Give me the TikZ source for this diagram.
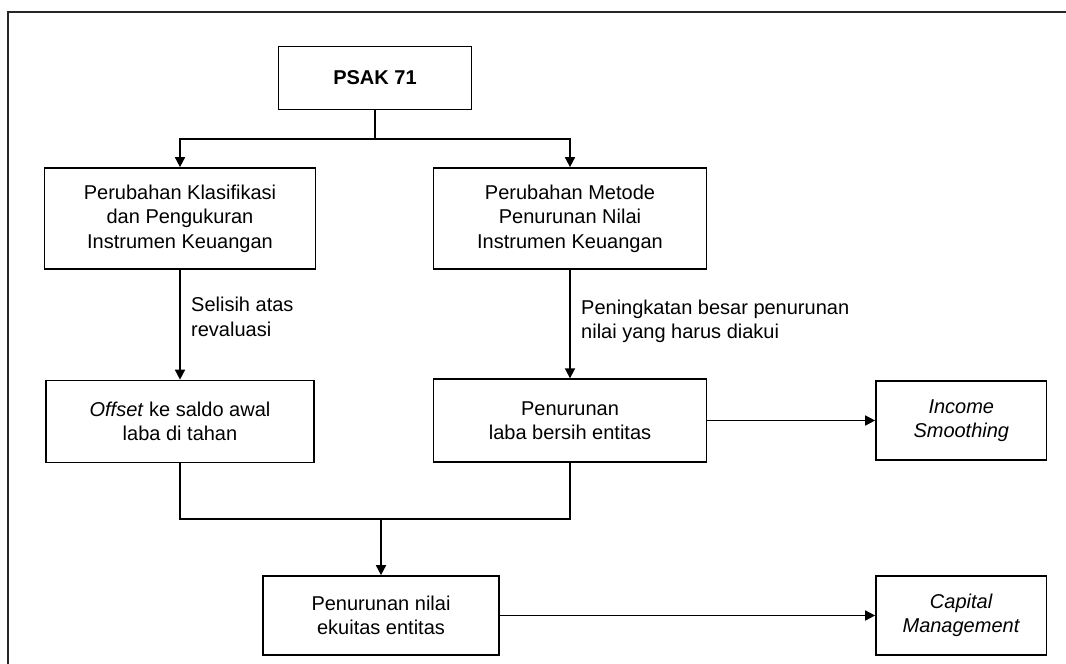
\documentclass[tikz,border=0pt]{standalone}
\usepackage{fontspec}
\setmainfont{Liberation Sans}
\usetikzlibrary{arrows.meta}
\begin{document}
\begin{tikzpicture}[x=1pt,y=-1pt,
  box/.style={draw,line width=1.7pt,rectangle,inner sep=0pt,align=center,
    font=\fontsize{20}{24.5}\selectfont},
  conn/.style={line width=1.7pt},
  arr/.style={line width=1.7pt,-{Triangle[length=10pt,width=10pt]}},
  lbl/.style={anchor=north west,inner sep=0pt,align=left,
    font=\fontsize{20}{24.5}\selectfont}]
\useasboundingbox (0,0) rectangle (1066,664);
\draw[line width=1.7pt,black!85] (8,670) -- (8,12) -- (1070,12);
\node[box,minimum width=193pt,minimum height=63pt] (psak) at (375,78) {\textbf{PSAK 71}};
\node[box,minimum width=271pt,minimum height=101pt] (b1) at (180,218.5)
  {Perubahan Klasifikasi\\dan Pengukuran\\Instrumen Keuangan};
\node[box,minimum width=273pt,minimum height=101pt] (b2) at (570,218.5)
  {Perubahan Metode\\Penurunan Nilai\\Instrumen Keuangan};
\node[box,minimum width=268pt,minimum height=82pt] (b3) at (180,421.5)
  {\textit{Offset} ke saldo awal\\laba di tahan};
\node[box,minimum width=273pt,minimum height=83pt] (b4) at (570,420.7)
  {Penurunan\\laba bersih entitas};
\node[box,minimum width=236pt,minimum height=79pt] (b5) at (381,615.5)
  {Penurunan nilai\\ekuitas entitas};
\node[box,minimum width=170.6pt,minimum height=79pt] (b6) at (961.3,420.5)
  {\textit{Income}\\\textit{Smoothing}};
\node[box,minimum width=170.6pt,minimum height=79pt] (b7) at (961.3,615.5)
  {\textit{Capital}\\\textit{Management}};
\coordinate (split) at (375,139);
\coordinate (merge) at (381,519);
\draw[conn] (psak.south) -- (split);
\draw[arr] (split) -| (b1.north);
\draw[arr] (split) -| (b2.north);
\draw[arr] (b1.south) -- (b3.north);
\draw[arr] (b2.south) -- (b4.north);
\draw[conn] (b3.south) |- (merge) -| (b4.south);
\draw[arr] (merge) -- (b5.north);
\draw[arr] (b4.east |- b6.west) -- (b6.west);
\draw[arr] (b5.east) -- (b7.west);
\node[lbl] (l1) at (191,297) {Selisih atas\\revaluasi};
\node[lbl] (l2) at (581,299.5) {Peningkatan besar penurunan\\nilai yang harus diakui};
\end{tikzpicture}
\end{document}
